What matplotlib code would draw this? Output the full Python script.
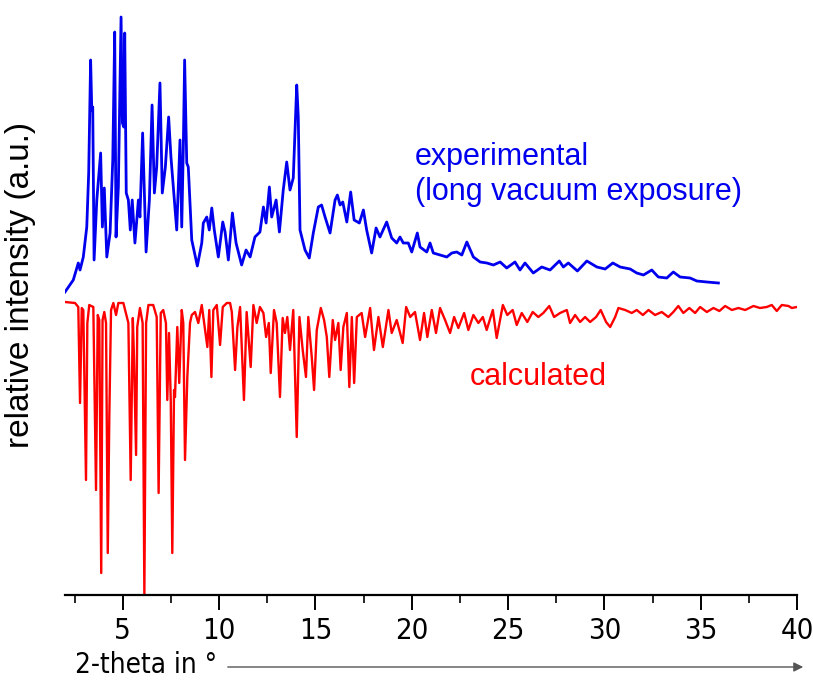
import matplotlib
matplotlib.use("Agg")
import matplotlib.pyplot as plt
from matplotlib import font_manager as fm

# ---- data (2-theta in degrees, intensity in arbitrary units) ----
exp_two_theta = [2.00, 2.43, 2.69, 2.78, 2.95, 3.13, 3.23, 3.33, 3.39, 3.44, 3.51, 3.65, 3.85, 3.94, 4.04,
                 4.17, 4.34, 4.48, 4.58, 4.65, 4.77, 4.91, 4.98, 5.05, 5.10, 5.18, 5.29, 5.39, 5.49, 5.63,
                 5.81, 5.89, 6.03, 6.21, 6.38, 6.52, 6.64, 6.76, 6.93, 7.05, 7.21, 7.38, 7.50, 7.80, 7.97,
                 8.06, 8.14, 8.21, 8.32, 8.40, 8.58, 8.87, 9.10, 9.18, 9.36, 9.49, 9.62, 9.75, 9.96, 10.19,
                 10.31, 10.48, 10.69, 10.88, 11.17, 11.40, 11.61, 11.86, 12.12, 12.30, 12.44, 12.61, 12.73,
                 12.96, 13.13, 13.33, 13.51, 13.68, 13.85, 14.03, 14.11, 14.20, 14.46, 14.68, 14.89, 15.15,
                 15.32, 15.50, 15.76, 16.02, 16.14, 16.28, 16.42, 16.63, 16.83, 17.01, 17.28, 17.49, 17.66,
                 17.92, 18.15, 18.35, 18.70, 18.96, 19.22, 19.39, 19.56, 19.82, 20.00, 20.29, 20.43, 20.78,
                 20.95, 21.12, 21.47, 21.82, 22.08, 22.34, 22.60, 22.86, 23.20, 23.55, 23.90, 24.24, 24.59,
                 24.93, 25.36, 25.62, 25.88, 26.31, 26.75, 27.18, 27.66, 27.87, 28.13, 28.60, 29.09, 29.61,
                 30.04, 30.44, 30.82, 31.34, 31.68, 32.03, 32.46, 32.80, 33.24, 33.58, 33.93, 34.45, 34.80,
                 35.32, 35.92]
exp_intensity = [10, 22, 39, 32, 45, 75, 129, 242, 192, 195, 42, 102, 149, 75, 114,
                 45, 69, 142, 270, 65, 115, 285, 179, 175, 269, 109, 102, 72, 102, 59,
                 102, 85, 169, 50, 102, 197, 109, 135, 219, 109, 135, 185, 145, 72, 162,
                 75, 152, 242, 139, 135, 62, 36, 59, 79, 85, 72, 94, 72, 45, 80,
                 70, 42, 89, 59, 37, 52, 45, 65, 70, 95, 79, 115, 85,
                 102, 70, 112, 140, 112, 124, 217, 185, 72, 52, 44, 69, 95,
                 97, 85, 69, 102, 107, 97, 100, 80, 110, 82, 79, 92, 72,
                 49, 74, 65, 80, 64, 59, 65, 59, 59, 50, 69, 55, 50,
                 59, 49, 47, 45, 49, 50, 47, 60, 45, 40, 39, 37, 40,
                 34, 40, 32, 39, 29, 35, 32, 41, 35, 39, 31, 41, 35,
                 33, 39, 35, 33, 29, 27, 32, 25, 24, 30, 25, 24, 21,
                 20, 19]

calc_two_theta = [2.00, 2.52, 2.69, 2.78, 2.87, 2.95, 3.09, 3.16, 3.26, 3.47, 3.61, 3.70, 3.78, 3.88, 3.95,
                  4.04, 4.13, 4.22, 4.30, 4.39, 4.51, 4.65, 4.77, 5.03, 5.29, 5.41, 5.52, 5.58, 5.69, 5.75,
                  5.89, 6.03, 6.12, 6.21, 6.33, 6.58, 6.76, 6.86, 6.97, 7.10, 7.24, 7.31, 7.40, 7.49, 7.57,
                  7.66, 7.71, 7.83, 7.93, 8.06, 8.14, 8.23, 8.35, 8.49, 8.58, 8.75, 8.92, 9.10, 9.27, 9.39,
                  9.49, 9.60, 9.70, 9.88, 10.05, 10.19, 10.40, 10.57, 10.66, 10.83, 10.95, 11.09, 11.29,
                  11.43, 11.64, 11.78, 11.95, 12.12, 12.30, 12.44, 12.58, 12.68, 12.85, 12.99, 13.16, 13.30,
                  13.42, 13.54, 13.68, 13.85, 14.03, 14.17, 14.34, 14.51, 14.63, 14.81, 14.93, 15.07, 15.28,
                  15.45, 15.59, 15.72, 15.90, 16.02, 16.19, 16.31, 16.45, 16.63, 16.76, 16.89, 17.01, 17.15,
                  17.40, 17.58, 17.84, 18.04, 18.27, 18.50, 18.79, 18.96, 19.22, 19.53, 19.71, 19.92, 20.17,
                  20.43, 20.64, 20.81, 21.04, 21.26, 21.47, 21.73, 21.99, 22.20, 22.42, 22.72, 22.94, 23.20,
                  23.46, 23.69, 23.89, 24.21, 24.41, 24.73, 24.96, 25.24, 25.45, 25.71, 26.00, 26.28, 26.57,
                  26.83, 27.14, 27.39, 27.70, 28.05, 28.22, 28.48, 28.74, 29.00, 29.26, 29.57, 29.81, 30.09,
                  30.30, 30.56, 30.73, 31.08, 31.42, 31.68, 32.00, 32.29, 32.63, 32.98, 33.32, 33.58, 33.84,
                  34.10, 34.41, 34.71, 34.97, 35.32, 35.66, 35.97, 36.27, 36.62, 36.96, 37.31, 37.74, 38.08,
                  38.43, 38.69, 38.95, 39.21, 39.56, 39.73, 39.99]
calc_intensity = [0, 1, 5, 101, 6, 8, 178, 21, 3, 5, 188, 13, 18, 271, 18,
                  10, 21, 251, 115, 8, 1, 13, 1, 1, 21, 178, 16, 55, 153, 25,
                  6, 21, 293, 21, 3, 3, 15, 191, 11, 8, 21, 98, 31, 98, 251,
                  88, 95, 25, 81, 8, 21, 158, 75, 21, 13, 10, 21, 3, 28, 45,
                  8, 75, 8, 3, 43, 5, 1, 1, 10, 68, 25, 5, 98,
                  10, 65, 3, 21, 5, 11, 35, 21, 71, 8, 21, 95, 16,
                  31, 15, 48, 8, 135, 15, 48, 75, 15, 55, 88, 28, 6,
                  18, 35, 75, 18, 38, 21, 68, 25, 11, 85, 15, 81, 15,
                  11, 35, 6, 48, 15, 45, 8, 31, 18, 41, 5, 15, 10,
                  38, 11, 35, 8, 31, 6, 18, 31, 15, 26, 11, 28, 13,
                  21, 15, 28, 8, 36, 3, 13, 8, 23, 11, 20, 10, 15,
                  11, 4, 15, 11, 8, 21, 13, 20, 15, 20, 15, 8, 20,
                  25, 15, 6, 8, 11, 8, 13, 8, 13, 10, 15, 10, 4,
                  11, 6, 11, 5, 10, 6, 9, 4, 8, 6, 8, 4, 6,
                  5, 3, 9, 3, 4, 6, 5]

offset = 293  # baseline of the stacked patterns
x_ticks = [5, 10, 15, 20, 25, 30, 35, 40]

# ---- fonts ----
def find_narrow():
    prefs = ["LiberationSansNarrow-Regular", "ArialNarrow", "Arial Narrow", "DejaVuSansCondensed.ttf",
             "RobotoCondensed-Regular", "OpenSans_Condensed-Regular", "OpenSansCondensed"]
    files = [f.fname for f in fm.fontManager.ttflist]
    for p in prefs:
        for fn in files:
            if p.lower() in fn.replace(" ", "").lower() or p.lower() in fn.lower():
                return fn
    return None

narrow_file = find_narrow()
regular = "Liberation Sans"

def narrow_props(size):
    if narrow_file:
        return fm.FontProperties(fname=narrow_file, size=size)
    return fm.FontProperties(family=regular, size=size)

fig = plt.figure(figsize=(8.13, 6.82), dpi=100)
ax = fig.add_axes([65 / 813, 1 - 595 / 682, (797 - 65) / 813, 595 / 682])

ax.plot(exp_two_theta, [offset + v for v in exp_intensity], color="#0000ee", lw=2.0,
        solid_joinstyle="round")
ax.plot(calc_two_theta, [offset - v for v in calc_intensity], color="#ff0000", lw=1.7,
        solid_joinstyle="round")

ax.set_xlim(2, 40)
ax.set_ylim(0, 595)
for s in ["left", "right", "top"]:
    ax.spines[s].set_visible(False)
ax.spines["bottom"].set_linewidth(1.6)
ax.set_yticks([])
ax.set_xticks(x_ticks)
ax.set_xticks([2.5 + 5 * i for i in range(8)], minor=True)
ax.tick_params(axis="x", which="major", direction="out", length=11, width=1.4, pad=5)
ax.tick_params(axis="x", which="minor", direction="out", length=6, width=1.2)
ax.set_xticklabels([str(t) for t in x_ticks], fontproperties=narrow_props(21))

ax.text(20.17, 438, "experimental", color="#0000ee", fontsize=22, family=regular,
        ha="left", va="center")
ax.text(20.17, 403, "(long vacuum exposure)", color="#0000ee", fontsize=22, family=regular,
        ha="left", va="center")
ax.text(23.03, 218, "calculated", color="#ff0000", fontsize=22, family=regular,
        ha="left", va="center")

fig.text(21 / 813, 1 - 285 / 682, "relative intensity (a.u.)", rotation=90, fontsize=24,
         family=regular, ha="center", va="center")
fig.text(75 / 813, 1 - 665 / 682, "2-theta in °", fontproperties=narrow_props(20),
         ha="left", va="center")
fig.add_artist(matplotlib.patches.FancyArrowPatch((225 / 813, 1 - 667 / 682), (806 / 813, 1 - 667 / 682),
                                                  transform=fig.transFigure, arrowstyle="-|>",
                                                  mutation_scale=14, color="#555555", lw=1.0))

fig.savefig("out.png", dpi=100)
